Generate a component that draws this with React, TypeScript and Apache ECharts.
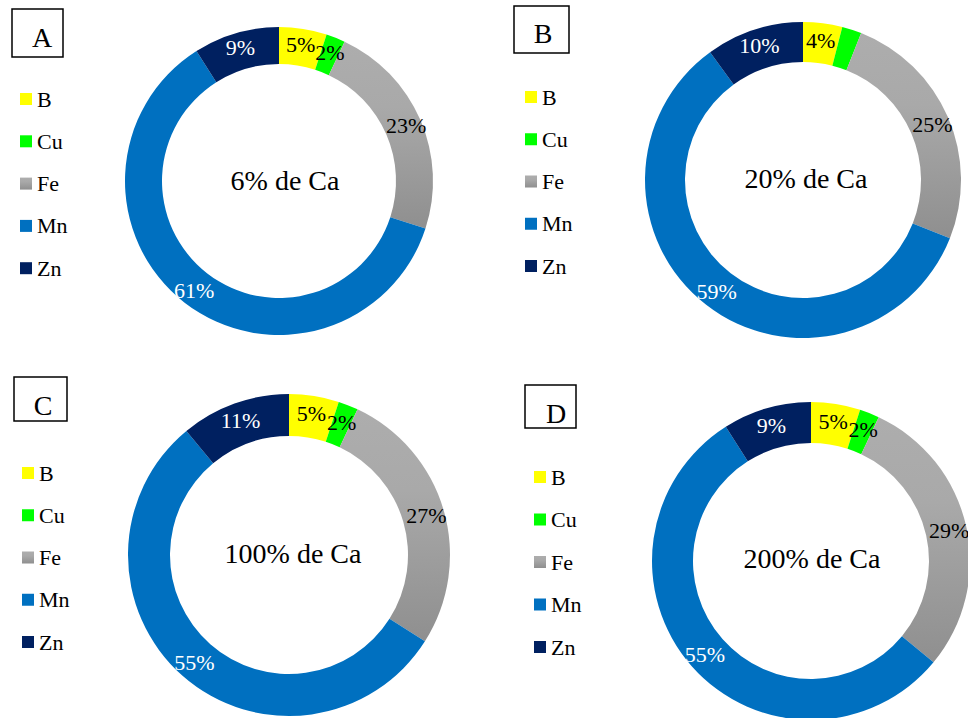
import React, { useEffect, useRef } from "react";
import * as echarts from "echarts";

const elements = ["B", "Cu", "Fe", "Mn", "Zn"];
const panelLetters = ["A", "B", "C", "D"];
const centerLabels = ["6% de Ca", "20% de Ca", "100% de Ca", "200% de Ca"];
const valuesA = [5, 2, 23, 61, 9];
const valuesB = [4, 2, 25, 59, 10];
const valuesC = [5, 2, 27, 55, 11];
const valuesD = [5, 2, 29, 55, 9];
const allValues = [valuesA, valuesB, valuesC, valuesD];

const SERIF = "Liberation Serif";

const feGradient = () =>
  new echarts.graphic.LinearGradient(0, 0, 0, 1, [
    { offset: 0, color: "#ADADAD" },
    { offset: 0.35, color: "#A9A9A9" },
    { offset: 1, color: "#8F8F8F" },
  ]);

const sliceColors = ["#FFFF00", "#00FF00", null, "#0070C0", "#002060"];
const labelColors = ["#000000", "#000000", "#000000", "#FFFFFF", "#FFFFFF"];

// layout per panel
const pieLayout = [
  { center: [279, 181], radius: [117, 154] },
  { center: [803, 180], radius: [118, 158] },
  { center: [289, 555], radius: [119, 161] },
  { center: [811, 561], radius: [118, 159] },
];
const legendLayout = [
  { left: 20, top: 88, gap: 20.3 },
  { left: 525, top: 86, gap: 20.25 },
  { left: 22, top: 462, gap: 20.25 },
  { left: 534, top: 466, gap: 20.5 },
];
const boxLayout = [
  { x: 12, y: 9, w: 51, h: 48, tx: 42, ty: 37 },
  { x: 514, y: 6, w: 55, h: 47, tx: 543, ty: 33 },
  { x: 14, y: 377, w: 53, h: 44, tx: 43, ty: 405 },
  { x: 525, y: 385, w: 51, h: 43, tx: 556, ty: 413 },
];
const centerTextPos = [
  [285, 180],
  [806, 178],
  [293, 553],
  [812, 558],
];

export default function App() {
  const ref = useRef<HTMLDivElement>(null);
  useEffect(() => {
    if (!ref.current) return;
    const chart = echarts.init(ref.current, null, { renderer: "svg" });

    const series = allValues.map((vals, p) => ({
      type: "pie",
      name: "panel" + panelLetters[p],
      center: pieLayout[p].center,
      radius: pieLayout[p].radius,
      startAngle: 90,
      clockwise: true,
      avoidLabelOverlap: false,
      label: {
        show: true,
        position: "inside",
        formatter: "{c}%",
        fontFamily: SERIF,
        fontSize: 22,
      },
      labelLine: { show: false },
      emphasis: { disabled: true },
      itemStyle: { borderWidth: 0 },
      data: elements.map((name, i) => ({
        name,
        value: vals[i],
        itemStyle: { color: sliceColors[i] ?? feGradient() },
        label: { color: labelColors[i] },
      })),
    }));

    const legends = legendLayout.map((l) => ({
      orient: "vertical",
      left: l.left,
      top: l.top,
      padding: 0,
      itemGap: l.gap,
      itemWidth: 12,
      itemHeight: 12,
      icon: "rect",
      selectedMode: false,
      data: elements,
      textStyle: {
        fontFamily: SERIF,
        fontSize: 22,
        color: "#000",
        lineHeight: 22,
      },
    }));

    const graphics: any[] = [];
    boxLayout.forEach((b, p) => {
      graphics.push({
        type: "rect",
        shape: { x: b.x, y: b.y, width: b.w, height: b.h },
        style: { fill: "#fff", stroke: "#000", lineWidth: 1.5 },
        silent: true,
      });
      graphics.push({
        type: "text",
        x: b.tx,
        y: b.ty,
        style: {
          text: panelLetters[p],
          fontFamily: SERIF,
          fontSize: 28,
          fill: "#000",
          textAlign: "center",
          textVerticalAlign: "middle",
        },
        silent: true,
      });
      graphics.push({
        type: "text",
        x: centerTextPos[p][0],
        y: centerTextPos[p][1],
        style: {
          text: centerLabels[p],
          fontFamily: SERIF,
          fontSize: 28,
          fill: "#000",
          textAlign: "center",
          textVerticalAlign: "middle",
        },
        silent: true,
      });
    });

    chart.setOption({
      animation: false,
      backgroundColor: "#fff",
      legend: legends,
      series,
      graphic: graphics,
    });
    return () => chart.dispose();
  }, []);
  return (
    <div
      ref={ref}
      style={{ position: "fixed", left: 0, top: 0, width: 968, height: 718 }}
    />
  );
}
